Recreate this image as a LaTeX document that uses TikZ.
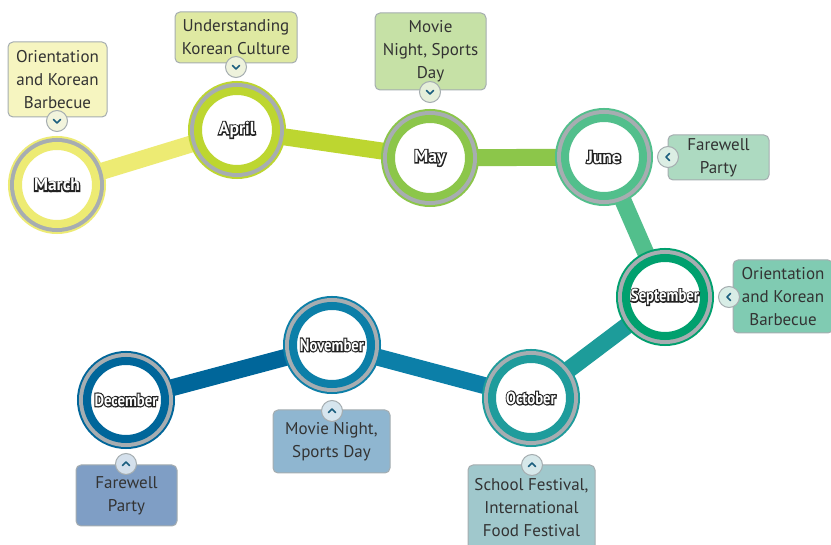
\documentclass[tikz,border=0pt]{standalone}
\usepackage{fontspec}
\setmainfont{PT Sans}
\newfontfamily\outlinefont[FakeBold=14]{PT Sans}
\usetikzlibrary{backgrounds}

\definecolor{marchc}{HTML}{EDEB73}
\definecolor{aprilc}{HTML}{BDD630}
\definecolor{mayc}{HTML}{8CC64A}
\definecolor{junec}{HTML}{52BF8C}
\definecolor{septc}{HTML}{00A06E}
\definecolor{octc}{HTML}{1F9C9C}
\definecolor{novc}{HTML}{0C7FA8}
\definecolor{decc}{HTML}{00669A}
\definecolor{marchbox}{HTML}{F6F5C0}
\definecolor{aprilbox}{HTML}{DFE9A2}
\definecolor{maybox}{HTML}{C6E1A6}
\definecolor{junebox}{HTML}{ADDAC1}
\definecolor{septbox}{HTML}{80CBB2}
\definecolor{octbox}{HTML}{A0C8CC}
\definecolor{novbox}{HTML}{8FB6D0}
\definecolor{decbox}{HTML}{7F9EC5}
\definecolor{marchtog}{HTML}{F2F4DD}
\definecolor{apriltog}{HTML}{EEF2DC}
\definecolor{maytog}{HTML}{E5EFDA}
\definecolor{junetog}{HTML}{DCEEE4}
\definecolor{septtog}{HTML}{D8EDE6}
\definecolor{octtog}{HTML}{D6E8EA}
\definecolor{novtog}{HTML}{D6E5EE}
\definecolor{dectog}{HTML}{D4E0EC}
\definecolor{ringgray}{HTML}{A7ADB1}
\definecolor{boxgray}{HTML}{A5ADB0}
\definecolor{chevc}{HTML}{1B5E7E}
\definecolor{textc}{HTML}{333333}
\definecolor{outl}{HTML}{222222}

\pgfdeclarelayer{backdrop}
\pgfsetlayers{backdrop,background,main}

\tikzset{
  month/.style={circle, inner sep=0pt, minimum size=78pt, fill=white,
    draw=#1, line width=8pt,
    preaction={draw=#1, line width=20pt},
    preaction={draw=ringgray, line width=16pt},
    font=\fontsize{17.5}{17.5}\selectfont},
  link/.style={draw=#1, line width=17pt},
  note/.style={rectangle, rounded corners=5pt, draw=boxgray, line width=1pt,
    fill=#1, align=center, text=textc, inner sep=2pt,
    font=\fontsize{17}{23}\selectfont},
  btn/.style={circle, draw=boxgray, line width=1pt, fill=#1,
    minimum size=21pt, inner sep=0pt},
  chev/.style={draw=chevc, line width=1.6pt, line cap=round, line join=round}
}
\newcommand{\mlabel}[1]{\makebox[0pt]{\outlinefont\bfseries\color{outl}#1}\makebox[0pt]{\bfseries\color{white}#1}}
\newcommand{\narrow}[1]{\scalebox{0.84}[1]{#1}}
\newcommand{\chevron}[2]{\draw[chev, shift={(#1.center)}, rotate=#2] (-3.5,-1.5) -- (0,2) -- (3.5,-1.5);}

\begin{document}
\begin{tikzpicture}[x=1pt,y=-1pt]
\useasboundingbox (0,0) rectangle (831,545);
\begin{pgfonlayer}{backdrop}
\fill[white] (0,0) rectangle (831,545);
\end{pgfonlayer}

% months
\node[month=marchc] (march) at (57,185) {\mlabel{March}};
\node[month=aprilc] (april) at (237,130) {\mlabel{April}};
\node[month=mayc] (may) at (430,158) {\mlabel{May}};
\node[month=junec] (june) at (604,157) {\mlabel{June}};
\node[month=septc] (sept) at (665,297) {\mlabel{\narrow{September}}};
\node[month=octc] (oct) at (531,398) {\mlabel{\narrow{October}}};
\node[month=novc] (nov) at (332,345) {\mlabel{\narrow{November}}};
\node[month=decc] (dec) at (126,400) {\mlabel{\narrow{December}}};

\begin{scope}[on background layer]
\draw[link=marchc] (march.center) -- (april.center);
\draw[link=aprilc] (april.center) -- (may.center);
\draw[link=mayc] (may.center) -- (june.center);
\draw[link=junec] (june.center) -- (sept.center);
\draw[link=octc!95!septc] (sept.center) -- (oct.center);
\draw[link=novc] (oct.center) -- (nov.center);
\draw[link=decc] (nov.center) -- (dec.center);
\end{scope}

% events
\node[note=marchbox, minimum width=99pt, minimum height=75pt] (marchnote) at (57.5,79.5) {Orientation\\and Korean\\Barbecue};
\node[note=aprilbox, minimum width=122pt, minimum height=51pt] (aprilnote) at (236,37.5) {Understanding\\Korean Culture};
\node[note=maybox, minimum width=111pt, minimum height=77pt] (maynote) at (430.5,51.5) {Movie\\Night, Sports\\Day};
\node[note=junebox, minimum width=101pt, minimum height=45pt] (junenote) at (718.5,157.5) {Farewell\\Party};
\node[note=septbox, minimum width=100pt, minimum height=73pt] (septnote) at (783,296.5) {Orientation\\and Korean\\Barbecue};
\node[note=octbox, minimum width=127pt, minimum height=86pt] (octnote) at (531.5,508) {School Festival,\\International\\Food Festival};
\node[note=novbox, minimum width=117pt, minimum height=63pt] (novnote) at (331.5,441.5) {Movie Night,\\Sports Day};
\node[note=decbox, minimum width=101pt, minimum height=61pt] (decnote) at (126.5,495.5) {Farewell\\Party};

% toggles
\node[btn=marchtog] (marchbtn) at (57,121) {};
\node[btn=apriltog] (aprilbtn) at (236,67) {};
\node[btn=maytog] (maybtn) at (430,92) {};
\node[btn=junetog] (junebtn) at (668,157) {};
\node[btn=septtog] (septbtn) at (729,297) {};
\node[btn=octtog] (octbtn) at (532,465) {};
\node[btn=novtog] (novbtn) at (332,411) {};
\node[btn=dectog] (decbtn) at (126,464) {};
\chevron{marchbtn}{0}
\chevron{aprilbtn}{0}
\chevron{maybtn}{0}
\chevron{junebtn}{-90}
\chevron{septbtn}{-90}
\chevron{octbtn}{180}
\chevron{novbtn}{180}
\chevron{decbtn}{180}
\end{tikzpicture}
\end{document}
